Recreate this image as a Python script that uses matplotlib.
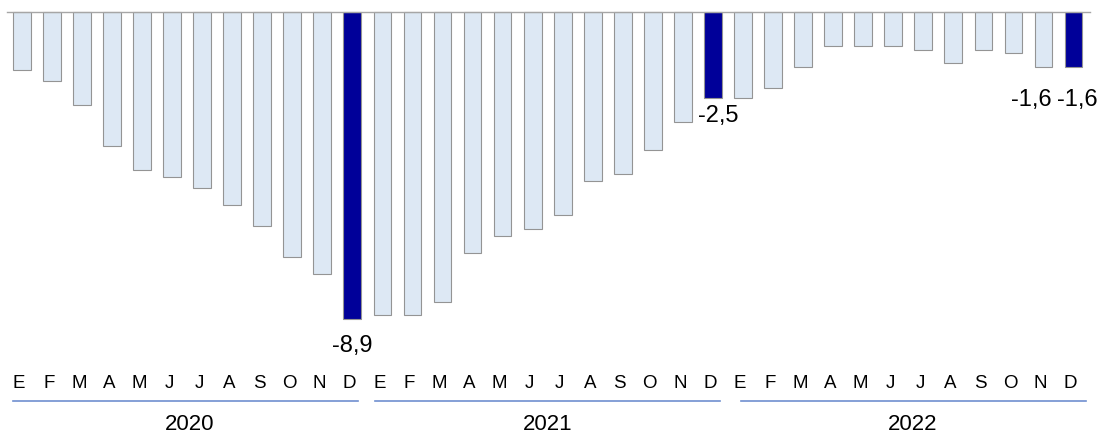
import numpy as np
import matplotlib
matplotlib.use('Agg')
import matplotlib.pyplot as plt

plt.rcParams['font.family'] = ['Liberation Sans', 'DejaVu Sans']

# data
years = ['2020', '2021', '2022']
months = ['E', 'F', 'M', 'A', 'M', 'J', 'J', 'A', 'S', 'O', 'N', 'D']
values_2020 = [-1.7, -2.0, -2.7, -3.9, -4.6, -4.8, -5.1, -5.6, -6.2, -7.1, -7.6, -8.9]
values_2021 = [-8.8, -8.8, -8.4, -7.0, -6.5, -6.3, -5.9, -4.9, -4.7, -4.0, -3.2, -2.5]
values_2022 = [-2.5, -2.2, -1.6, -1.0, -1.0, -1.0, -1.1, -1.5, -1.1, -1.2, -1.6, -1.6]
# bars that are highlighted and labelled (index in the full series)
highlight = [11, 23, 34, 35]
label_dx_px = {11: 0, 23: 5, 34: -12, 35: 4}
label_dy_px = {11: 27, 23: 18, 34: 33, 35: 33}

values = np.array(values_2020 + values_2021 + values_2022)
n = len(values)
x = np.arange(n)

light = '#dde8f4'
dark = '#000099'
edge = '#949494'
colors = [dark if i in (11, 23, 35) else light for i in range(n)]

fig = plt.figure(figsize=(11.06, 4.34), dpi=100)
ax = fig.add_axes([0, 0, 1, 1])

px = 30.05   # pixels per bar slot
py = 34.5    # pixels per unit
x0 = 21.8
y0 = 11.7
ax.set_xlim(-x0 / px, (1106 - x0) / px)
ax.set_ylim(-(434 - y0) / py, y0 / py)
ax.axis('off')

ax.bar(x, values, width=0.59, color=colors, edgecolor=edge, linewidth=0.8, zorder=2)
ax.plot([-0.49, 35.55], [0, 0], color='#a6a6a6', linewidth=1.0, zorder=3)

def ypx(p):
    return -(p - y0) / py

# data labels
for i in highlight:
    ax.annotate(f'{values[i]:.1f}'.replace('.', ','), (x[i], values[i]),
                xytext=(label_dx_px[i] * 0.72, -label_dy_px[i] * 0.72),
                textcoords='offset points', ha='center', va='center',
                fontsize=17, color='#000000')

# month labels
for i in range(n):
    ax.text(x[i] - 0.1, ypx(384), months[i % 12], ha='center', va='center',
            fontsize=13.5, color='#000000')

# year groups
line_left = [-0.28, 11.75, 23.92]
line_right = [11.2, 23.23, 35.41]
year_mid = [5.6, 17.51, 29.64]
for k, yr in enumerate(years):
    ax.plot([line_left[k], line_right[k]], [ypx(401), ypx(401)],
            color='#6f8fcf', linewidth=1.2)
    ax.text(year_mid[k], ypx(425), yr, ha='center', va='center',
            fontsize=16, color='#000000')

fig.savefig('out.png', dpi=100)
